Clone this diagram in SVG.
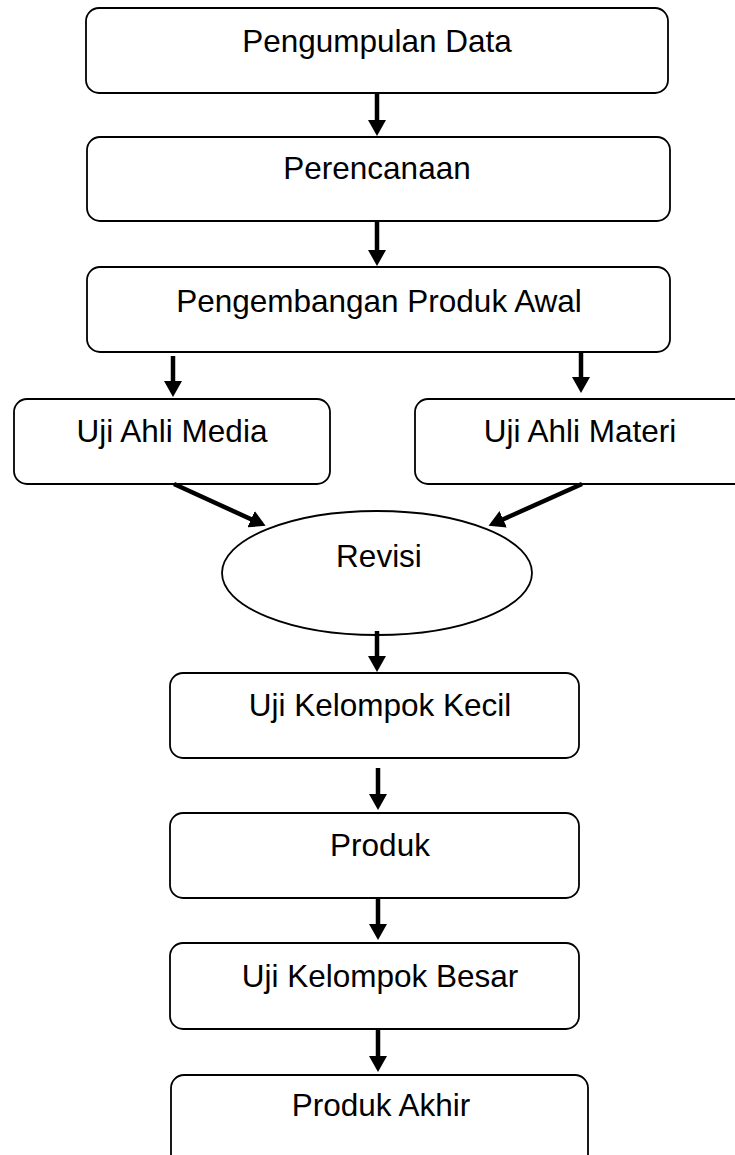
<svg xmlns="http://www.w3.org/2000/svg" width="735" height="1155" viewBox="0 0 735 1155">
<defs>
<style>
.box{fill:#fff;stroke:#000;stroke-width:1.8}
.lbl{font-family:"Liberation Sans",Arial,sans-serif;font-size:31.5px;fill:#000;text-anchor:middle}
.arr{stroke:#000;stroke-width:4.5;fill:none;marker-end:url(#ah)}
</style>
<marker id="ah" viewBox="0 0 16 18" refX="6" refY="9" markerWidth="16" markerHeight="18" markerUnits="userSpaceOnUse" orient="auto">
<path d="M0,0 L16,9 L0,18 z" fill="#000"/>
</marker>
</defs>
<rect width="735" height="1155" fill="#fff"/>
<g id="n1"><rect class="box" x="86" y="8" width="582" height="85" rx="13"/><text class="lbl" x="377" y="52">Pengumpulan Data</text></g>
<g id="n2"><rect class="box" x="87" y="137" width="583" height="84" rx="13"/><text class="lbl" x="377" y="179">Perencanaan</text></g>
<g id="n3"><rect class="box" x="87" y="267" width="583" height="85" rx="13"/><text class="lbl" x="379" y="312">Pengembangan Produk Awal</text></g>
<g id="n4"><rect class="box" x="14" y="399" width="316" height="85" rx="13"/><text class="lbl" x="172" y="442">Uji Ahli Media</text></g>
<g id="n5"><rect class="box" x="415" y="399" width="340" height="85" rx="13"/><text class="lbl" x="580" y="442">Uji Ahli Materi</text></g>
<g id="n6"><ellipse class="box" cx="377" cy="573" rx="155" ry="62"/><text class="lbl" x="379" y="567">Revisi</text></g>
<g id="n7"><rect class="box" x="170" y="673" width="409" height="85" rx="13"/><text class="lbl" x="380" y="716">Uji Kelompok Kecil</text></g>
<g id="n8"><rect class="box" x="170" y="813" width="409" height="85" rx="13"/><text class="lbl" x="380" y="856">Produk</text></g>
<g id="n9"><rect class="box" x="170" y="943" width="409" height="86" rx="13"/><text class="lbl" x="380" y="987">Uji Kelompok Besar</text></g>
<g id="n10"><rect class="box" x="171" y="1075" width="417" height="95" rx="13"/><text class="lbl" x="381" y="1116">Produk Akhir</text></g>
<g id="connectors">
<line class="arr" x1="377" y1="93" x2="377" y2="126"/>
<line class="arr" x1="377" y1="221" x2="377" y2="256"/>
<line class="arr" x1="173" y1="356" x2="173" y2="387"/>
<line class="arr" x1="581" y1="352" x2="581" y2="383"/>
<line class="arr" x1="174" y1="484" x2="256.5" y2="521.7"/>
<line class="arr" x1="582" y1="484" x2="497.7" y2="521.7"/>
<line class="arr" x1="377" y1="631" x2="377" y2="662"/>
<line class="arr" x1="378" y1="768" x2="378" y2="800"/>
<line class="arr" x1="378" y1="898" x2="378" y2="930"/>
<line class="arr" x1="378" y1="1029" x2="378" y2="1062"/>
</g>
</svg>
